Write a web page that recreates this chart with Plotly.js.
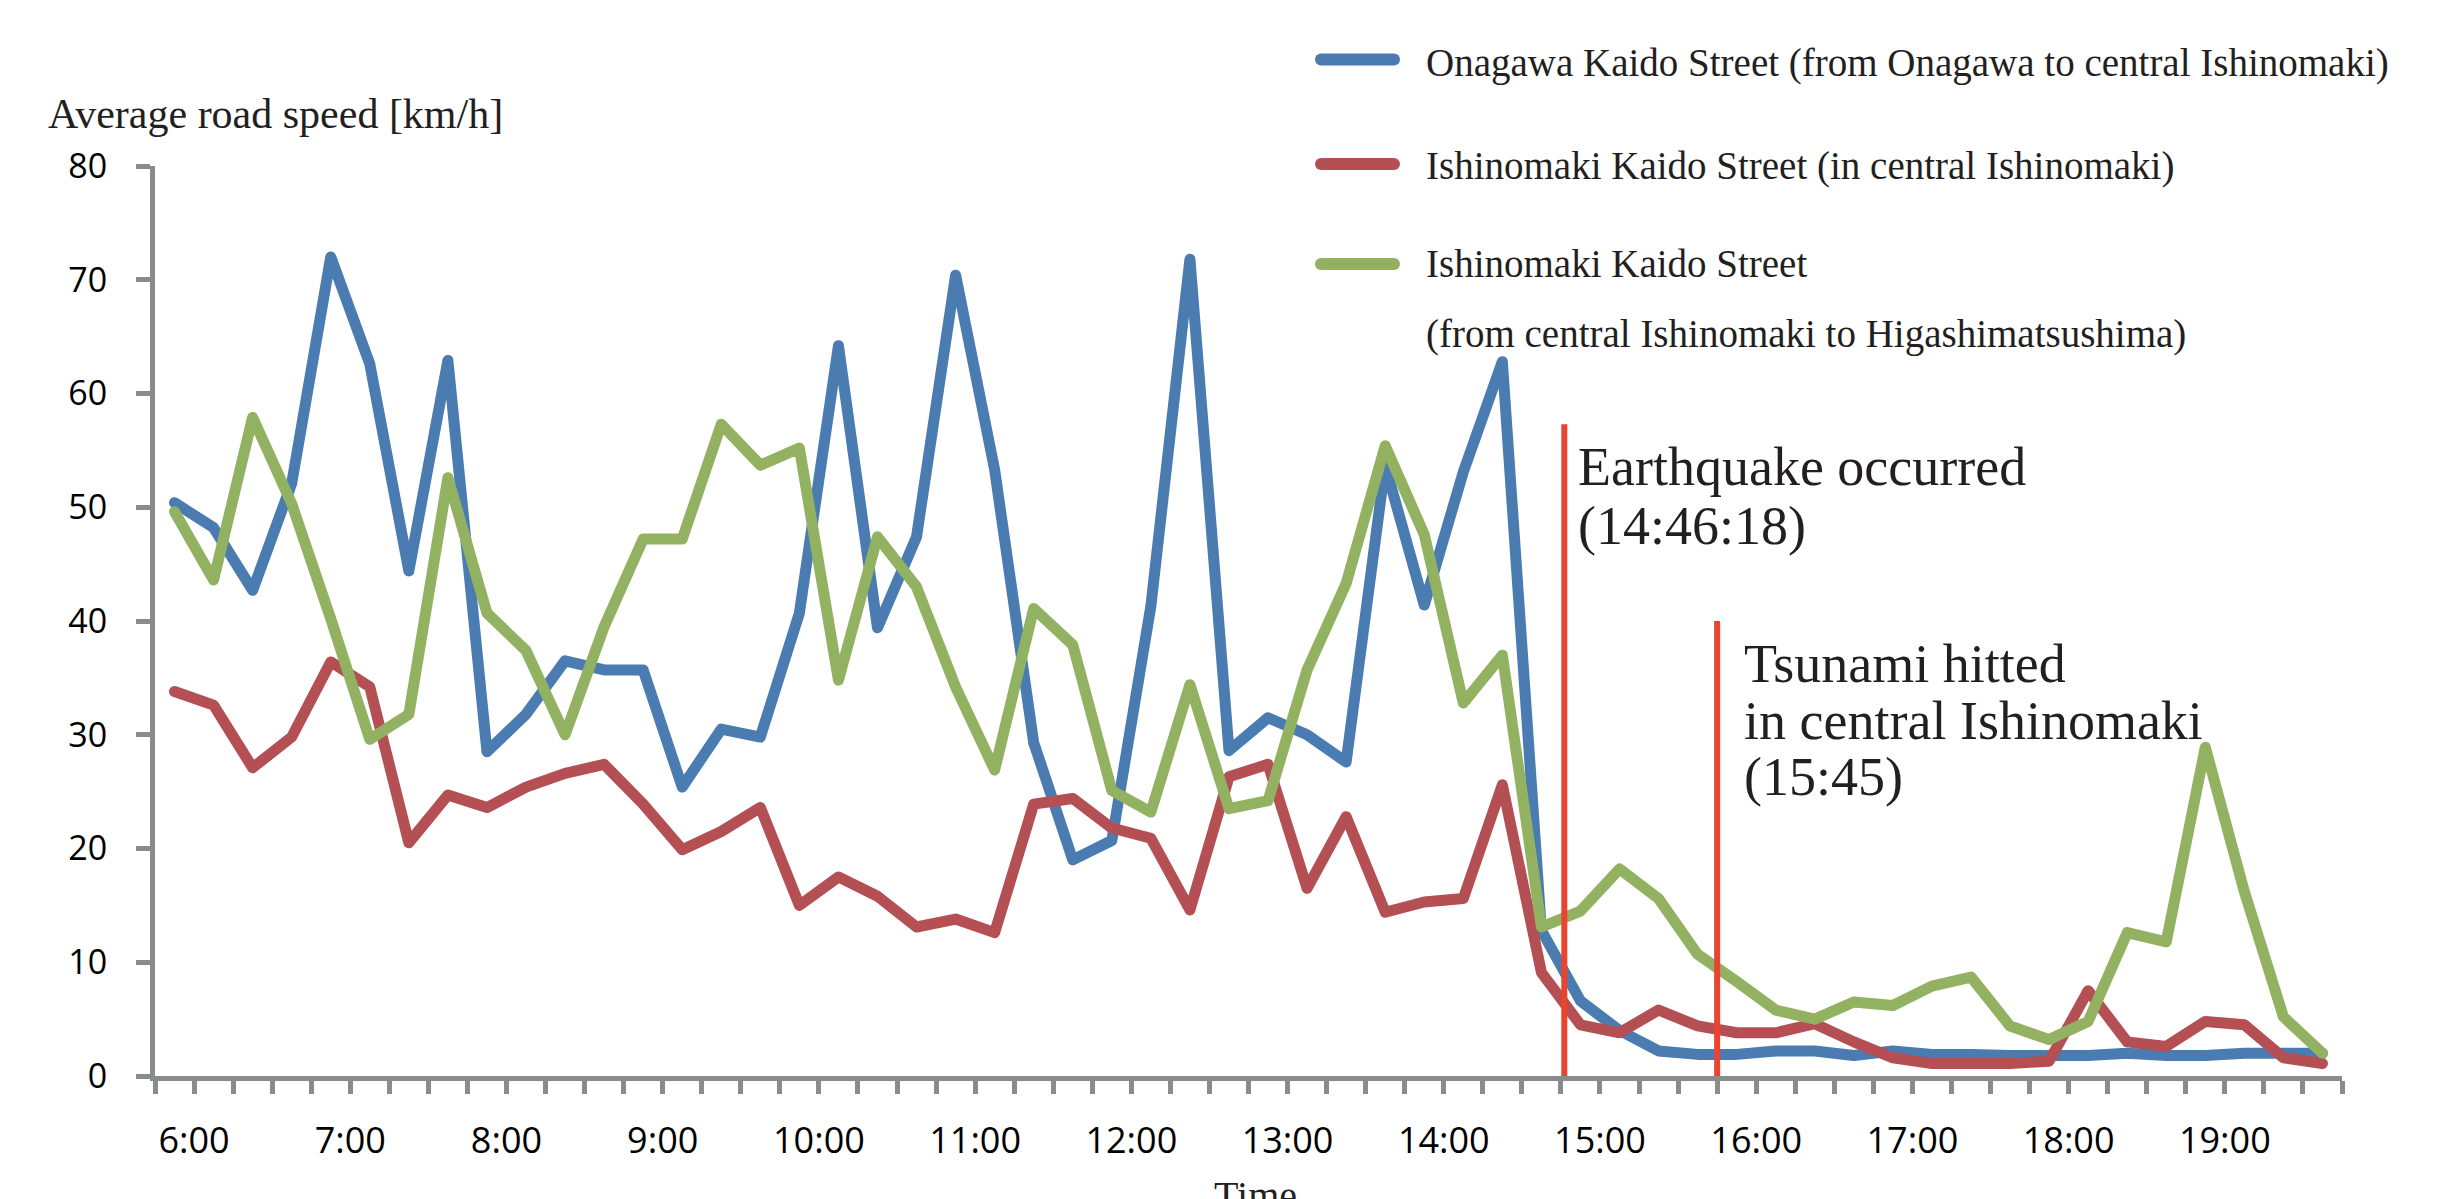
<!DOCTYPE html>
<html><head><meta charset="utf-8">
<script src="https://cdn.plot.ly/plotly-3.0.1.min.js"></script>
<style>
html,body{margin:0;padding:0;background:#fff}
#chart{width:2456px;height:1199px}
.scatterlayer path.js-line{stroke-linejoin:round !important;stroke-linecap:round !important}
.layer-below .shapelayer path{stroke-linecap:round !important}
</style>
</head><body><div id="chart"></div>
<script>
// ---- data ----
const day = "2011-03-11";
const timeLabels = [
  "05:52:30","06:07:30","06:22:30","06:37:30","06:52:30","07:07:30","07:22:30","07:37:30",
  "07:52:30","08:07:30","08:22:30","08:37:30","08:52:30","09:07:30","09:22:30","09:37:30",
  "09:52:30","10:07:30","10:22:30","10:37:30","10:52:30","11:07:30","11:22:30","11:37:30",
  "11:52:30","12:07:30","12:22:30","12:37:30","12:52:30","13:07:30","13:22:30","13:37:30",
  "13:52:30","14:07:30","14:22:30","14:37:30","14:52:30","15:07:30","15:22:30","15:37:30",
  "15:52:30","16:07:30","16:22:30","16:37:30","16:52:30","17:07:30","17:22:30","17:37:30",
  "17:52:30","18:07:30","18:22:30","18:37:30","18:52:30","19:07:30","19:22:30","19:37:30"
];
const onagawaSpeed = [
  50.4,48.2,42.7,52.1,72.0,62.6,44.4,62.9,
  28.5,31.8,36.5,35.7,35.7,25.4,30.5,29.8,
  40.7,64.2,39.4,47.4,70.4,53.3,29.3,19.0,
  20.7,41.3,71.8,28.6,31.5,30.0,27.6,53.7,
  41.4,53.1,62.8,12.8,6.6,4.0,2.2,1.9,
  1.9,2.2,2.2,1.8,2.2,1.9,1.9,1.8,
  1.8,1.8,2.0,1.8,1.8,2.0,2.0,2.0
];
const centralSpeed = [
  33.8,32.6,27.1,29.8,36.4,34.2,20.5,24.7,
  23.6,25.4,26.6,27.4,23.9,19.9,21.5,23.6,
  15.0,17.5,15.8,13.1,13.8,12.6,23.9,24.4,
  21.8,20.9,14.6,26.3,27.4,16.5,22.8,14.4,
  15.3,15.6,25.6,9.1,4.5,3.8,5.8,4.4,
  3.8,3.8,4.6,3.0,1.6,1.1,1.1,1.1,
  1.3,7.5,3.0,2.6,4.8,4.5,1.6,1.1
];
const higashiSpeed = [
  49.6,43.6,57.9,50.3,40.2,29.6,31.8,52.6,
  40.7,37.4,30.0,39.5,47.2,47.2,57.3,53.7,
  55.2,34.8,47.4,43.0,34.2,26.9,41.1,37.9,
  25.1,23.2,34.4,23.5,24.2,35.7,43.3,55.4,
  47.6,32.8,37.0,13.1,14.5,18.2,15.6,10.7,
  8.3,5.8,5.0,6.5,6.2,7.9,8.7,4.4,
  3.2,4.8,12.6,11.8,28.9,16.2,5.2,2.0
];
const seriesNames = [
  "Onagawa Kaido Street (from Onagawa to central Ishinomaki)",
  "Ishinomaki Kaido Street (in central Ishinomaki)",
  "Ishinomaki Kaido Street"
];
const seriesNameSecondLine = ["", "", "(from central Ishinomaki to Higashimatsushima)"];
const seriesColors = ["#4a7bb1", "#b44f53", "#92b262"];
const hourTickLabels = ["6:00","7:00","8:00","9:00","10:00","11:00","12:00","13:00","14:00","15:00","16:00","17:00","18:00","19:00"];
const yTickValues = [0,10,20,30,40,50,60,70,80];
const eventTimes = ["14:46:18", "15:45:00"];
const eventLineTops = [57.3, 40];
const eventTexts = [["Earthquake occurred", "(14:46:18)"], ["Tsunami hitted", "in central Ishinomaki", "(15:45)"]];
const yAxisTitle = "Average road speed [km/h]";
const xAxisTitle = "Time";

// ---- helpers (layout geometry) ----
const L = 155, T = 166, PW = 2187, PH = 910;
const px = x => (x - L) / PW;
const py = y => (T + PH - y) / PH;
const toDate = t => day + " " + t;
const pad2 = n => (n < 10 ? "0" : "") + n;

// ticks every 15 minutes, labelled on the hour
const tickVals = [], tickText = [];
for (let m = 5 * 60 + 45; m <= 19 * 60 + 45; m += 15) {
  const h = Math.floor(m / 60), mm = m % 60;
  tickVals.push(toDate(pad2(h) + ":" + pad2(mm) + ":00"));
  tickText.push(mm === 0 ? hourTickLabels[h - 6] : "");
}

const xs = timeLabels.map(toDate);
const seriesValues = [onagawaSpeed, centralSpeed, higashiSpeed];
const traces = seriesValues.map((vals, i) => ({
  type: "scatter", mode: "lines", x: xs, y: vals,
  name: seriesNames[i] + (seriesNameSecondLine[i] ? " " + seriesNameSecondLine[i] : ""),
  line: { color: seriesColors[i], width: 11, simplify: false },
  showlegend: false, hoverinfo: "x+y"
}));

const gray = "#8a8b8d";
const serif = "Liberation Serif, Times New Roman, serif";
const textColor = "#231f20";

const shapes = [];
const annotations = [];

// legend (custom)
const legendLineY = [59.5, 164, 264];
const legendTextY = [63, 166, 264];
seriesNames.forEach((n, i) => {
  shapes.push({ type: "line", xref: "paper", yref: "paper", layer: "below",
    x0: px(1321), x1: px(1394), y0: py(legendLineY[i]), y1: py(legendLineY[i]),
    line: { color: seriesColors[i], width: 12 } });
  annotations.push({ xref: "paper", yref: "paper", x: px(1424), y: py(legendTextY[i]), xanchor: "left", yanchor: "middle",
    text: n, showarrow: false, font: { family: serif, size: 39, color: textColor } });
  if (seriesNameSecondLine[i]) {
    annotations.push({ xref: "paper", yref: "paper", x: px(1424), y: py(334), xanchor: "left", yanchor: "middle",
      text: seriesNameSecondLine[i], showarrow: false, font: { family: serif, size: 39, color: textColor } });
  }
});

// event lines and labels
const eventTextX = [1576, 1742];
const eventTextY = [[467, 526], [664, 721, 777]];
eventTimes.forEach((t, i) => {
  shapes.push({ type: "line", xref: "x", yref: "y", x0: toDate(t), x1: toDate(t), y0: 0, y1: eventLineTops[i],
    line: { color: "#ea4330", width: 6 }, layer: "above" });
  eventTexts[i].forEach((s, j) => {
    annotations.push({ xref: "paper", yref: "paper", x: px(eventTextX[i]), y: py(eventTextY[i][j]), xanchor: "left", yanchor: "middle",
      text: s, showarrow: false, font: { family: serif, size: 54, color: textColor } });
  });
});

// axis titles
annotations.push({ xref: "paper", yref: "paper", x: px(46), y: py(114), xanchor: "left", yanchor: "middle",
  text: yAxisTitle, showarrow: false, font: { family: serif, size: 42, color: textColor } });
annotations.push({ xref: "paper", yref: "paper", x: px(1255), y: py(1195), xanchor: "center", yanchor: "middle",
  text: xAxisTitle, showarrow: false, font: { family: serif, size: 40, color: textColor } });

const layout = {
  width: 2456, height: 1199,
  margin: { l: L, r: 2456 - L - PW, t: T, b: 1199 - T - PH, pad: 0 },
  paper_bgcolor: "#fff", plot_bgcolor: "#fff",
  showlegend: false,
  xaxis: {
    type: "date", range: [toDate("05:45:00"), toDate("19:45:00")],
    tickmode: "array", tickvals: tickVals, ticktext: tickText,
    ticks: "outside", ticklen: 13, tickwidth: 5, tickcolor: gray,
    showline: true, linecolor: gray, linewidth: 5,
    showgrid: false, zeroline: false, ticklabelstandoff: 16,
    tickfont: { family: "Open Sans, sans-serif", size: 36, color: "#000" }
  },
  yaxis: {
    range: [0, 80], tickmode: "array", tickvals: yTickValues,
    ticks: "outside", ticklen: 14, tickwidth: 5, tickcolor: gray,
    showline: true, linecolor: gray, linewidth: 5,
    showgrid: false, zeroline: false, ticklabelstandoff: 22,
    tickfont: { family: "Open Sans, sans-serif", size: 34, color: "#000" }
  },
  shapes: shapes,
  annotations: annotations
};

Plotly.newPlot("chart", traces, layout, { staticPlot: true });
</script>
</body></html>
